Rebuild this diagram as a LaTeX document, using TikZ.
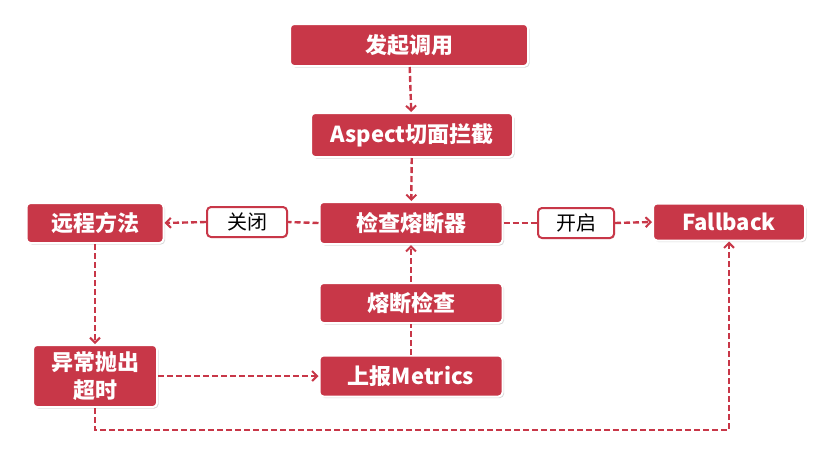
\documentclass[tikz,border=0pt]{standalone}
\usepackage{fontspec}
\newfontfamily\cjk{Noto Sans CJK SC}
\usetikzlibrary{arrows.meta,shadows}
\definecolor{boxred}{RGB}{200,55,72}
\tikzset{
  redbox/.style={rectangle, rounded corners=4pt, fill=boxred, draw=white, line width=2pt,
    text=white, font=\cjk\bfseries\fontsize{22}{28}\selectfont, inner sep=0pt, align=center,
    drop shadow={opacity=0.3, shadow xshift=1.5pt, shadow yshift=-1.5pt}},
  labbox/.style={rectangle, rounded corners=4pt, fill=white, draw=boxred, line width=2pt,
    text=black, font=\cjk\fontsize{20}{22}\selectfont, inner sep=0pt,
    drop shadow={opacity=0.25, shadow xshift=1pt, shadow yshift=-1pt}},
  conn/.style={draw=boxred, line width=2.4pt, dash pattern=on 6pt off 3pt},
  arr/.style={conn, -{Straight Barb[length=5pt,width=10pt,line width=2pt]}}
}
\begin{document}
\begin{tikzpicture}[x=1pt,y=-1pt]
\useasboundingbox (0,0) rectangle (832,464);
\node[redbox, minimum width=238pt, minimum height=42pt] (call) at (409,45) {发起调用};
\node[redbox, minimum width=202pt, minimum height=44pt] (aspect) at (412,135) {Aspect切面拦截};
\node[redbox, minimum width=183pt, minimum height=42pt] (check) at (411,223) {检查熔断器};
\node[redbox, minimum width=137pt, minimum height=40pt] (remote) at (95,223) {远程方法};
\node[labbox, minimum width=80pt, minimum height=30pt] (close) at (247,222) {关闭};
\node[labbox, minimum width=76pt, minimum height=30pt] (open) at (576,223) {开启};
\node[redbox, minimum width=152pt, minimum height=37pt] (fallback) at (729,222) {Fallback};
\node[redbox, minimum width=183pt, minimum height=40pt] (fcheck) at (411,303) {熔断检查};
\node[redbox, minimum width=183pt, minimum height=41pt] (metrics) at (411,376) {上报Metrics};
\node[redbox, minimum width=124pt, minimum height=62pt] (exc) at (95,376) {异常抛出\\超时};

\draw[arr] (call) -- (aspect);
\draw[arr] (aspect) -- (check);
\draw[conn] (check.west) -- (close.east);
\draw[arr] (close.west) -- (remote.east);
\draw[conn] (check.east) -- (open.west);
\draw[arr] (open.east) -- (fallback.west);
\draw[arr] (fcheck) -- (check);
\draw[conn] (metrics) -- (fcheck);
\draw[arr] (remote) -- (exc);
\draw[arr] (exc) -- (metrics);
\draw[arr] (exc.south) -- ++(0,22) -| (fallback.south);
\end{tikzpicture}
\end{document}
